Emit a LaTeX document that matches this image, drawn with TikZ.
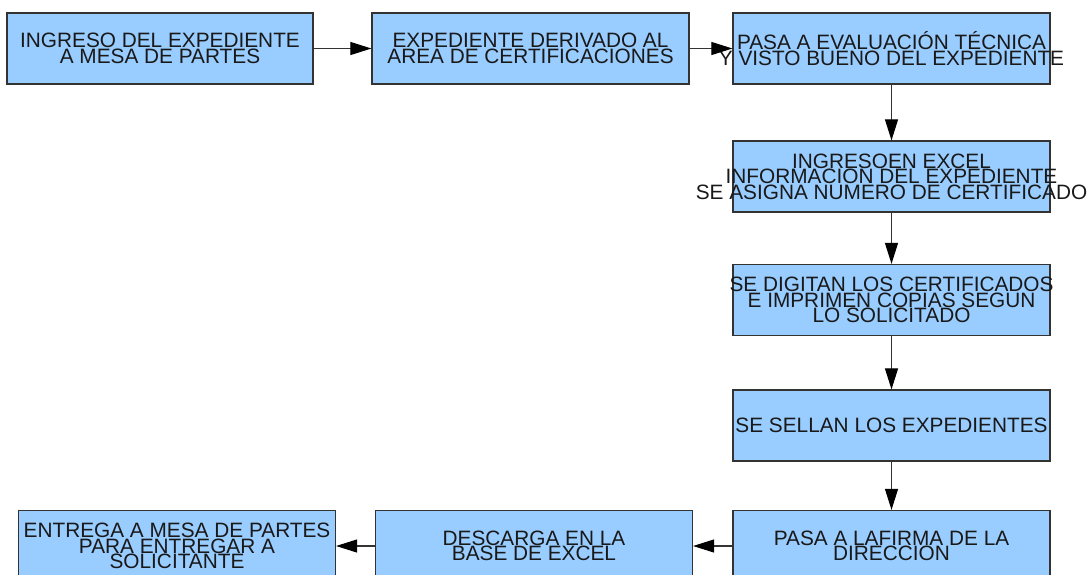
\documentclass[tikz,border=0pt]{standalone}
\usepackage{fontspec}
\setmainfont{Liberation Sans}
\usetikzlibrary{arrows.meta}

\definecolor{azulcaja}{HTML}{99CCFF}
\definecolor{grisborde}{HTML}{333333}
\newcommand{\letracaja}{\fontsize{20.8}{15.5}\selectfont\lineskiplimit=-50pt\relax}

\begin{document}
\begin{tikzpicture}[x=1pt, y=-1pt,
    caja/.style={draw=grisborde, line width=1.2pt, fill=azulcaja, minimum width=317pt, minimum height=71pt, inner sep=0pt},
    texto/.style={align=center, inner sep=0pt, text=black!90, font=\letracaja},
    flecha/.style={draw=grisborde, line width=1.1pt, -{Triangle[length=21pt, width=13pt, color=black]}}]
    \useasboundingbox (0,0) rectangle (1087,574);

    % Fila superior
    \node[caja, minimum width=306pt] (ingreso) at (160,48.5) {};
    \node[texto] at (ingreso) {INGRESO DEL EXPEDIENTE\\A MESA DE PARTES};
    \node[caja] (derivado) at (530.5,48.5) {};
    \node[texto] at (derivado) {EXPEDIENTE DERIVADO AL\\AREA DE CERTIFICACIONES};
    \node[caja] (evaluacion) at (891.5,48.5) {};
    \node[texto] at (evaluacion) {PASA A EVALUACIÓN TÉCNICA\\Y VISTO BUENO DEL EXPEDIENTE};

    % Columna derecha
    \node[caja] (excel) at (891.5,176.5) {};
    \node[texto] at (excel) {INGRESOEN EXCEL\\INFORMACION DEL EXPEDIENTE\\SE ASIGNA NUMERO DE CERTIFICADO};
    \node[caja] (digitan) at (891.5,300) {};
    \node[texto] at (digitan) {SE DIGITAN LOS CERTIFICADOS\\E IMPRIMEN COPIAS SEGUN\\LO SOLICITADO};
    \node[caja] (sellan) at (891.5,425.5) {};
    \node[texto] at (sellan) {SE SELLAN LOS EXPEDIENTES};

    % Fila inferior
    \node[caja] (firma) at (891.5,546) {};
    \node[texto] at (firma) {PASA A LAFIRMA DE LA\\DIRECCION};
    \node[caja] (descarga) at (534,546) {};
    \node[texto] at (descarga) {DESCARGA EN LA\\BASE DE EXCEL};
    \node[caja] (entrega) at (177,546) {};
    \node[texto] at (entrega) {ENTREGA A MESA DE PARTES\\PARA ENTREGAR A\\SOLICITANTE};

    % Flechas
    \draw[flecha] (ingreso) -- (derivado);
    \draw[flecha] (derivado) -- (evaluacion);
    \draw[flecha] (evaluacion) -- (excel);
    \draw[flecha] (excel) -- (digitan);
    \draw[flecha] (digitan) -- (sellan);
    \draw[flecha] (sellan) -- (firma);
    \draw[flecha] (firma) -- (descarga);
    \draw[flecha] (descarga) -- (entrega);
\end{tikzpicture}
\end{document}
